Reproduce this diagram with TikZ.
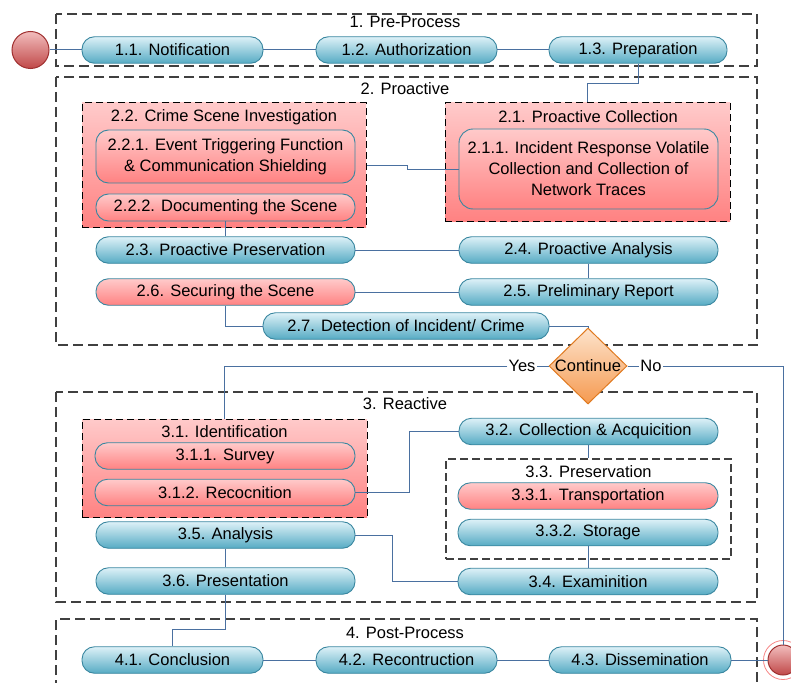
\documentclass[tikz,border=0pt]{standalone}
\usepackage{fontspec}
\setmainfont{Liberation Sans}
\usetikzlibrary{shapes.geometric,calc}
\definecolor{pillborder}{HTML}{3A87A0}
\definecolor{pilltop}{HTML}{DDF1F7}
\definecolor{pillbot}{HTML}{56ABC4}
\definecolor{redtop}{HTML}{FFCACA}
\definecolor{redbot}{HTML}{FF8282}
\definecolor{connc}{HTML}{4A70A0}
\definecolor{circtop}{HTML}{F2BDBD}
\definecolor{circbot}{HTML}{C04848}
\definecolor{circborder}{HTML}{A03030}
\definecolor{diatop}{HTML}{FDE3CC}
\definecolor{diabot}{HTML}{F59A50}
\definecolor{diaborder}{HTML}{E07A20}
\tikzset{
  txt/.style={font=\fontsize{16.5}{21}\selectfont, align=center},
  pill/.style={txt, draw=pillborder, line width=0.9pt, rounded corners=12.5pt, inner sep=0pt,
     top color=pilltop, bottom color=pillbot, minimum height=26.5pt},
  redpill/.style={pill, top color=redtop, bottom color=redbot},
  container/.style={draw=black, dash pattern=on 7pt off 4pt, line width=1pt,
     top color=redtop, bottom color=redbot, inner sep=0pt},
  grp/.style={draw=black!75, dash pattern=on 10pt off 5pt, line width=1.2pt},
  conn/.style={draw=connc, line width=1pt},
  glabel/.style={txt, inner sep=0pt},
  decision/.style={diamond, draw=diaborder, line width=1pt, top color=diatop, bottom color=diabot,
     minimum width=78pt, minimum height=76pt, inner sep=0pt},
  startend/.style={circle, draw=circborder, line width=1pt, top color=circtop, bottom color=circbot, inner sep=0pt},
}
\begin{document}
\begin{tikzpicture}[x=1pt,y=-1pt]
\useasboundingbox (0,0) rectangle (791,682);
% groups
\draw[grp] (56,14) rectangle (757,66);
\draw[grp] (56,77) rectangle (757,345);
\draw[grp] (56,392) rectangle (757,602);
\draw[grp] (56,690) -- (56,619) -- (757,619) -- (757,690);
\node[glabel] (g1) at (405,22) {1. Pre-Process};
\node[glabel] (g2) at (405,89) {2. Proactive};
\node[glabel] (g3) at (405,404) {3. Reactive};
\node[glabel] (g4) at (405,633) {4. Post-Process};
% containers
\node[container, minimum width=284pt, minimum height=124pt] (c22) at (224,165) {};
\node[glabel] (c22l) at (224,117) {2.2. Crime Scene Investigation};
\node[container, minimum width=285pt, minimum height=118pt] (c21) at (587.5,162) {};
\node[glabel] (c21l) at (588,117) {2.1. Proactive Collection};
\node[container, minimum width=285pt, minimum height=98pt] (c31) at (224.5,468) {};
\node[glabel] (c31l) at (224.5,432) {3.1. Identification};
\node[grp, dash pattern=on 8pt off 4pt, minimum width=285pt, minimum height=100pt, inner sep=0pt] (c33) at (588.5,509) {};
\node[glabel] (c33l) at (588.5,472) {3.3. Preservation};
% start / end
\node[startend, minimum size=37pt] (start) at (30.5,50) {};
\draw[circtop!70!red, line width=0.8pt] (783,660) circle (19.5pt);
\node[startend, minimum size=30pt] (endc) at (783,660) {};
% row 1
\node[pill, minimum width=181pt] (n11) at (172.5,50) {1.1. Notification};
\node[pill, minimum width=181pt] (n12) at (406.5,50) {1.2. Authorization};
\node[pill, minimum width=178pt] (n13) at (638,50) {1.3. Preparation};
% proactive
\node[redpill, minimum width=259pt, minimum height=53pt] (n221) at (225.5,156.5) {2.2.1. Event Triggering Function\\ \& Communication Shielding};
\node[redpill, minimum width=259pt, minimum height=27pt] (n222) at (225.5,207.5) {2.2.2. Documenting the Scene};
\node[redpill, rounded corners=14pt, minimum width=259pt, minimum height=80pt] (n211) at (588.5,169) {2.1.1. Incident Response Volatile\\Collection and Collection of\\Network Traces};
\node[pill, minimum width=259pt] (n23) at (225.5,250) {2.3. Proactive Preservation};
\node[pill, minimum width=259pt] (n24) at (588.5,250) {2.4. Proactive Analysis};
\node[redpill, minimum width=259pt] (n26) at (225.5,292) {2.6. Securing the Scene};
\node[pill, minimum width=259pt] (n25) at (588.5,292) {2.5. Preliminary Report};
\node[pill, minimum width=286pt] (n27) at (406,326) {2.7. Detection of Incident/ Crime};
% decision
\node[decision] (dec) at (588,366) {};
\node[txt, inner sep=0pt] at (dec.center) {Continue};
% reactive
\node[redpill, minimum width=260pt] (n311) at (225,456) {3.1.1. Survey};
\node[redpill, minimum width=260pt] (n312) at (225,492.5) {3.1.2. Recocnition};
\node[pill, minimum width=259pt] (n32) at (588.5,431.5) {3.2. Collection \& Acquicition};
\node[redpill, minimum width=260pt] (n331) at (588,496) {3.3.1. Transportation};
\node[pill, minimum width=260pt] (n332) at (588,532.5) {3.3.2. Storage};
\node[pill, minimum width=260pt] (n34) at (588,581.5) {3.4. Examinition};
\node[pill, minimum width=259pt] (n35) at (225.5,535) {3.5. Analysis};
\node[pill, minimum width=259pt] (n36) at (225.5,581) {3.6. Presentation};
% post
\node[pill, minimum width=181pt] (n41) at (172.5,660) {4.1. Conclusion};
\node[pill, minimum width=181pt] (n42) at (406.5,660) {4.2. Recontruction};
\node[pill, minimum width=182pt] (n43) at (640,660) {4.3. Dissemination};
% connectors
\draw[conn] (start) -- (n11);
\draw[conn] (n11) -- (n12);
\draw[conn] (n12) -- (n13);
\draw[conn] (n13.south) -- ++(0,20) -| (c21.north);
\draw[conn] (c22.east) -- ++(41,0) |- (n211.west);
\draw[conn] (n222) -- (n23);
\draw[conn] (n23) -- (n24);
\draw[conn] (n24) -- (n25);
\draw[conn] (n25) -- (n26);
\draw[conn] (n26.south) |- (n27.west);
\draw[conn] (n27.east) -| (dec.north);
\node[txt, inner sep=1pt] (yes) at (522,366) {Yes};
\node[txt, inner sep=1pt] (no) at (651,366) {No};
\draw[conn] (dec.west) -- (yes.east);
\draw[conn] (yes.west) -| (c31.north);
\draw[conn] (dec.east) -- (no.west);
\draw[conn] (no.east) -| (endc.north);
\draw[conn] (n312.east) -- ++(54,0) |- (n32.west);
\draw[conn] (n32) -- (c33);
\draw[conn] (n332) -- (n34);
\draw[conn] (n34.west) -- ++(-65,0) |- (n35.east);
\draw[conn] (n35) -- (n36);
\draw[conn] (n36.south) -- ++(0,35) -| (n41.north);
\draw[conn] (n41) -- (n42);
\draw[conn] (n42) -- (n43);
\draw[conn] (n43) -- (endc);
\end{tikzpicture}
\end{document}
